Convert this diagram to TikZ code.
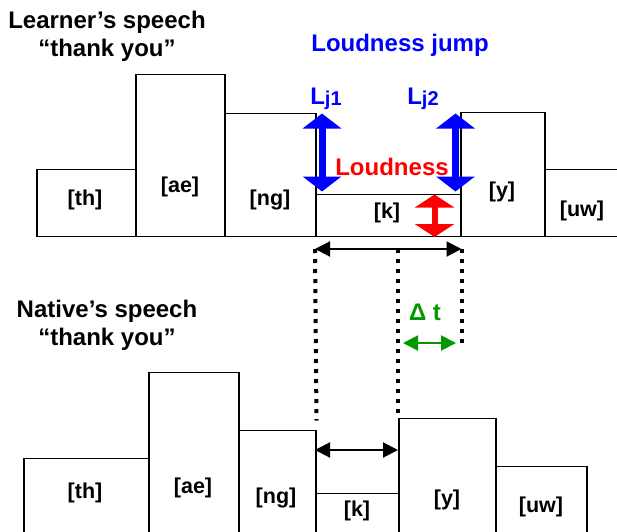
\documentclass[tikz,border=0pt]{standalone}
\usepackage{fontspec}
\setmainfont{Liberation Sans}
\usetikzlibrary{arrows.meta, positioning}
\definecolor{jumpcolor}{RGB}{0, 0, 255}
\definecolor{loudcolor}{RGB}{255, 0, 0}
\definecolor{deltacolor}{RGB}{0, 153, 0}
\tikzset{
  bar/.style={rectangle, draw, line width=1.5pt, anchor=south west, inner sep=0pt},
  phone/.style={font=\fontsize{21.5}{21.5}\selectfont\bfseries},
  title/.style={font=\fontsize{24}{28}\selectfont\bfseries, align=center},
  bigtext/.style={font=\fontsize{24}{24}\selectfont\bfseries},
  jumparr/.style={{Triangle[width=38pt, length=15pt]}-{Triangle[width=38pt, length=15pt]}, line width=7pt, color=jumpcolor},
  loudarr/.style={{Triangle[width=39pt, length=13pt]}-{Triangle[width=39pt, length=13pt]}, line width=6pt, color=loudcolor},
  spanarr/.style={{Triangle[width=15pt, length=15pt]}-{Triangle[width=15pt, length=15pt]}, line width=2pt, color=black},
  deltaarr/.style={{Triangle[width=15pt, length=15pt]}-{Triangle[width=15pt, length=15pt]}, line width=2pt, color=deltacolor},
  guide/.style={line width=4pt, dash pattern=on 4pt off 6pt}
}
\newcommand{\Lj}[1]{L\raisebox{-1pt}{\fontsize{20}{20}\selectfont j#1}}

\begin{document}
\begin{tikzpicture}[x=1pt, y=-1pt]
  \useasboundingbox (0,0) rectangle (617,531);

  % learner's speech
  \node[title] (ltitle) at (107,36) {Learner’s speech\\“thank you”};
  \node[bar, minimum width=99pt,  minimum height=67pt]  (Lth) at (36,237)  {};
  \node[bar, minimum width=89pt,  minimum height=162pt] (Lae) at (135,237) {};
  \node[bar, minimum width=91pt,  minimum height=123pt] (Lng) at (224,237) {};
  \node[bar, minimum width=145pt, minimum height=42pt]  (Lk)  at (315,237) {};
  \node[bar, minimum width=84pt,  minimum height=124pt] (Ly)  at (460,237) {};
  \node[bar, minimum width=76pt,  minimum height=67pt]  (Luw) at (544,237) {};

  \node[phone] (lthlab) at (85,200)  {[th]};
  \node[phone] (laelab) at (180,187) {[ae]};
  \node[phone] (lnglab) at (270,200) {[ng]};
  \node[phone] (lklab)  at (387,213) {[k]};
  \node[phone] (lylab)  at (502,192) {[y]};
  \node[phone] (luwlab) at (582,211) {[uw]};

  % native's speech
  \node[title] (ntitle) at (107,325) {Native’s speech\\“thank you”};
  \node[bar, minimum width=125pt, minimum height=74pt]  (Nth) at (23,533)  {};
  \node[bar, minimum width=90pt,  minimum height=160pt] (Nae) at (148,533) {};
  \node[bar, minimum width=77pt,  minimum height=102pt] (Nng) at (238,533) {};
  \node[bar, minimum width=83pt,  minimum height=39pt]  (Nk)  at (315,533) {};
  \node[bar, minimum width=97pt,  minimum height=114pt] (Ny)  at (398,533) {};
  \node[bar, minimum width=91pt,  minimum height=66pt]  (Nuw) at (495,533) {};

  \node[phone] (nthlab) at (85,493)  {[th]};
  \node[phone] (naelab) at (193,488) {[ae]};
  \node[phone] (nnglab) at (276,498) {[ng]};
  \node[phone] (nklab)  at (357,511) {[k]};
  \node[phone] (nylab)  at (447,500) {[y]};
  \node[phone] (nuwlab) at (541,507) {[uw]};

  % loudness
  \node[bigtext, text=jumpcolor] (jump) at (400,45)  {Loudness jump};
  \node[bigtext, text=jumpcolor] (lj1)  at (326,99)  {\Lj{1}};
  \node[bigtext, text=jumpcolor] (lj2)  at (423,99)  {\Lj{2}};
  \node[bigtext, text=loudcolor] (loud) at (392,167) {Loudness};

  \draw[jumparr] ([xshift=7pt, yshift=-1pt]Lk.north west |- Lng.north) -- ([xshift=7pt, yshift=2pt]Lk.north west);
  \draw[jumparr] ([xshift=-6pt, yshift=-2pt]Lk.north east |- Ly.north) -- ([xshift=-6pt, yshift=2pt]Lk.north east);
  \draw[loudarr] ([xshift=-27pt, yshift=-1pt]Lk.north east) -- ([xshift=-27pt]Lk.south east);

  % durations
  \coordinate (spanL) at ([yshift=-12pt]Lk.south west);
  \coordinate (spanR) at ([yshift=-12pt]Lk.south east);
  \coordinate (spanM) at (Ny.north west |- spanL);
  \coordinate (dtend) at (spanR |- 0,347);
  \coordinate (dtL)   at (403,343);
  \coordinate (dtR)   at (456,343);
  \coordinate (gapL)  at (315,450);
  \coordinate (gapR)  at (398,450);

  \draw[guide] (spanL) -- ([yshift=9pt]Nng.north east);
  \draw[guide] (spanM) -- (Ny.north west);
  \draw[guide] (spanR) -- (dtend);

  \draw[spanarr]  (spanL) -- (spanR);
  \draw[spanarr]  (gapL)  -- (gapR);
  \draw[deltaarr] (dtL)   -- (dtR);
  \node[bigtext, text=deltacolor] (dt) at (425,312) {Δ t};

\end{tikzpicture}
\end{document}
